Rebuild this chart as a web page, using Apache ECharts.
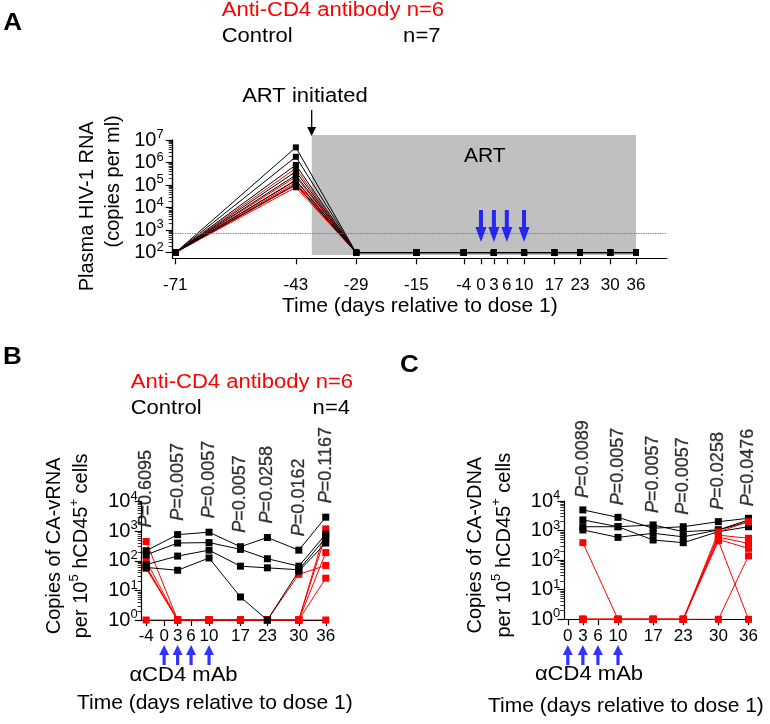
<!DOCTYPE html>
<html><head><meta charset="utf-8">
<script src="https://cdn.jsdelivr.net/npm/echarts@6/dist/echarts.min.js"></script>
<style>html,body{margin:0;padding:0;background:#fff}#c{width:770px;height:724px}</style>
</head><body><div id="c"></div>
<script>
// ---------------- DATA ----------------
// Panel A: plasma HIV-1 RNA (copies per ml)
const aDays = [-71, -43, -29, -15, -4, 3, 10, 17, 23, 30, 36];
const aAnti = [
  [100, 5.5e5, 100, 100, 100, 100, 100, 100, 100, 100, 100],
  [100, 2.3e5, 100, 100, 100, 100, 100, 100, 100, 100, 100],
  [100, 1.7e5, 100, 100, 100, 100, 100, 100, 100, 100, 100],
  [100, 1.3e5, 100, 100, 100, 100, 100, 100, 100, 100, 100],
  [100, 1.0e5, 100, 100, 100, 100, 100, 100, 100, 100, 100],
  [100, 8.0e4, 100, 100, 100, 100, 100, 100, 100, 100, 100]
];
const aControl = [
  [100, 4.7e6, 100, 100, 100, 100, 100, 100, 100, 100, 100],
  [100, 1.8e6, 100, 100, 100, 100, 100, 100, 100, 100, 100],
  [100, 7.8e5, 100, 100, 100, 100, 100, 100, 100, 100, 100],
  [100, 4.0e5, 100, 100, 100, 100, 100, 100, 100, 100, 100],
  [100, 2.8e5, 100, 100, 100, 100, 100, 100, 100, 100, 100],
  [100, 1.6e5, 100, 100, 100, 100, 100, 100, 100, 100, 100],
  [100, 1.1e5, 100, 100, 100, 100, 100, 100, 100, 100, 100]
];
const aTicks = [-71, -43, -29, -15, -4, 0, 3, 6, 10, 17, 23, 30, 36];
const aDetectionLimit = 700;
const artPeriod = [-39.3, 36];
const doseDays = [0, 3, 6, 10];

// Panel B: CA-vRNA copies per 1e5 hCD45+ cells
const bDays = [-4, 3, 10, 17, 23, 30, 36];
const bAnti = [
  [450, 1, 1, 1, 1, 1, 1200],
  [100, 1, 1, 1, 1, 1, 760],
  [65, 1, 1, 1, 1, 1, 190],
  [60, 1, 1, 1, 1, 35, 70],
  [55, 1, 1, 1, 1, 1, 26],
  [1, 1, 1, 1, 1, 1, 1]
];
const bControl = [
  [220, 770, 930, 300, 615, 230, 3000],
  [160, 400, 415, 245, 118, 66, 800],
  [75, 145, 230, 66, 58, 50, 600],
  [60, 48, 125, 6, 1, 45, 400]
];
const bP = ['0.6095', '0.0057', '0.0057', '0.0057', '0.0258', '0.0162', '0.1167'];
const bTicks = [-4, 0, 3, 6, 10, 17, 23, 30, 36];

// Panel C: CA-vDNA copies per 1e5 hCD45+ cells
const cDays = [3, 10, 17, 23, 30, 36];
const cAnti = [
  [390, 1, 1, 1, 900, 2000],
  [1, 1, 1, 1, 700, 550],
  [1, 1, 1, 1, 600, 370],
  [1, 1, 1, 1, 500, 250],
  [1, 1, 1, 1, 450, 1],
  [1, 1, 1, 1, 1, 140]
];
const cControl = [
  [5000, 2800, 1200, 1350, 2000, 2600],
  [2300, 1350, 1550, 920, 1050, 2300],
  [1350, 1350, 480, 390, 920, 1350],
  [1050, 590, 810, 615, 1050, 2000]
];
const cP = ['0.0089', '0.0057', '0.0057', '0.0057', '0.0258', '0.0476'];
const cTicks = [0, 3, 6, 10, 17, 23, 30, 36];

// ---------------- STYLE ----------------
const FONT = '"Liberation Sans", Arial, Helvetica, sans-serif';
const RED = '#ff0000', BLACK = '#000000', BLUE = '#0000ff';
const SX = 1.13;
const ARROW_UP = 'path://M5,0 L10,10 L6.6,10 L6.6,20 L3.4,20 L3.4,10 L0,10 Z';
const ARROW_DOWN = 'path://M3.5,0 L7.5,0 L7.5,17 L11,17 L5.5,32 L0,17 L3.5,17 Z';
const A_X = [-71.6, 43.2], B_X = [-5, 36.5], C_X = [-0.7, 36.6];

const logRich = {
  b: {fontSize: 20, fontFamily: FONT, color: BLACK, lineHeight: 24},
  s: {fontSize: 13, fontFamily: FONT, color: BLACK, lineHeight: 17, verticalAlign: 'top'}
};
function logLabel(v) { return '{b|10}{s|' + Math.round(Math.log10(v)) + '}'; }
function zip(days, vals) { return days.map((d, i) => [d, vals[i]]); }
function colMax(groups, n) {
  const out = [];
  for (let i = 0; i < n; i++) {
    let m = 0;
    groups.forEach(g => g.forEach(s => { if (s[i] > m) m = s[i]; }));
    out.push(m);
  }
  return out;
}
function axLine() { return {show: true, onZero: false, lineStyle: {color: BLACK, width: 1.2}}; }
function logYAxis(gi, min, max, name, nameGap, rich, labelMargin) {
  return {
    gridIndex: gi, type: 'log', logBase: 10, min: min, max: max,
    axisLine: axLine(),
    axisTick: {show: true, length: 7, lineStyle: {color: BLACK, width: 1.2}},
    minorTick: {show: true, length: 4, splitNumber: 9, lineStyle: {color: BLACK, width: 0.8}},
    splitLine: {show: false}, minorSplitLine: {show: false},
    axisLabel: {formatter: logLabel, rich: logRich, margin: labelMargin, fontSize: 20, color: BLACK},
    name: name, nameLocation: 'middle', nameRotate: 90, nameGap: nameGap,
    nameTextStyle: {rich: rich}
  };
}
function valXAxis(gi, ext, ticks, margin, nameGap, pad) {
  return {
    gridIndex: gi, type: 'value', min: ext[0], max: ext[1], position: 'bottom',
    axisLine: axLine(),
    axisTick: {show: true, length: 6, customValues: ticks, lineStyle: {color: BLACK, width: 1.2}},
    axisLabel: {customValues: ticks, fontSize: 17, fontFamily: FONT, color: BLACK, margin: margin, hideOverlap: false},
    splitLine: {show: false},
    name: 'Time (days relative to dose 1)', nameLocation: 'middle', nameGap: nameGap,
    nameTextStyle: {fontSize: 21, fontFamily: FONT, color: BLACK, padding: pad}
  };
}
function hiddenX(gi, ext) { return {gridIndex: gi, type: 'value', min: ext[0], max: ext[1], show: false}; }
function hiddenY(gi) { return {gridIndex: gi, type: 'value', min: 0, max: 1, show: false}; }
function lineSeries(xi, days, vals, lineColor, markColor, z, size) {
  return {
    type: 'line', xAxisIndex: xi, yAxisIndex: xi, data: zip(days, vals),
    symbol: 'rect', symbolSize: size, z: z, silent: true,
    lineStyle: {color: lineColor, width: 1}, itemStyle: {color: markColor}
  };
}
function pSeries(xi, days, maxes, pvals, dist) {
  const tok = {fontSize: 18, fontFamily: FONT, color: BLACK, textBorderColor: BLACK, textBorderWidth: 0.3};
  return {
    type: 'scatter', xAxisIndex: xi, yAxisIndex: xi, z: 10, silent: true,
    data: zip(days, maxes), symbol: 'circle', symbolSize: 0.01,
    itemStyle: {color: BLACK},
    label: {
      show: true, position: 'top', distance: dist, rotate: 90, align: 'left', verticalAlign: 'middle',
      color: BLACK,
      formatter: p => '{i|P}{n|=' + pvals[p.dataIndex] + '}',
      rich: {i: Object.assign({fontStyle: 'italic'}, tok), n: Object.assign({}, tok)}
    }
  };
}
function arrowSeries(xi, sym, size) {
  return {
    type: 'scatter', xAxisIndex: xi, yAxisIndex: xi, silent: true, z: 10,
    data: doseDays.map(d => [d, 0.5]), symbol: sym, symbolSize: size,
    itemStyle: {color: BLUE}
  };
}
function txt(x, y, text, color, align, size, weight) {
  return {
    type: 'text', x: x, y: y, scaleX: SX, silent: true,
    style: {text: text, fill: color, fontSize: size || 19.5, fontFamily: FONT,
            fontWeight: weight || 'normal', textAlign: align || 'left', textVerticalAlign: 'middle'}
  };
}

// ---------------- GRIDS ----------------
// 0: A data, 1: A dose arrows, 2: A time-axis frame, 3: A ART band,
// 4: B data, 5: B arrows, 6: C data, 7: C arrows
const grids = [
  {left: 172.7, top: 140, width: 494.3, height: 112.7},
  {left: 172.7, top: 210, width: 494.3, height: 32},
  {left: 172.7, top: 140, width: 494.3, height: 118.3},
  {left: 172.7, top: 135, width: 494.3, height: 120},
  {left: 141.7, top: 501.7, width: 186.3, height: 118.3},
  {left: 141.7, top: 645, width: 186.3, height: 20},
  {left: 564.3, top: 501, width: 187.2, height: 118.3},
  {left: 564.3, top: 645, width: 187.2, height: 20}
];

// ---------------- SERIES ----------------
const series = [];
series.push({
  type: 'line', xAxisIndex: 3, yAxisIndex: 3, data: [], silent: true, z: 0,
  markArea: {
    silent: true, itemStyle: {color: '#c0c0c0'},
    label: {show: true, position: 'insideTop', distance: 11, offset: [11, 0], color: BLACK,
            fontSize: 21, fontFamily: FONT, formatter: 'ART'},
    data: [[{xAxis: artPeriod[0], yAxis: 0}, {xAxis: artPeriod[1], yAxis: 1}]]
  }
});
aAnti.forEach((v, i) => {
  const s = lineSeries(0, aDays, v, RED, BLACK, 2, 6);
  if (i === 0) {
    s.markLine = {
      silent: true, symbol: 'none', label: {show: false},
      lineStyle: {type: 'dotted', color: '#707070', width: 1.2},
      data: [{yAxis: aDetectionLimit}]
    };
  }
  series.push(s);
});
aControl.forEach(v => series.push(lineSeries(0, aDays, v, BLACK, BLACK, 3, 6)));
series.push(arrowSeries(1, ARROW_DOWN, [11, 32]));
bAnti.forEach(v => series.push(lineSeries(4, bDays, v, RED, RED, 2, 7)));
bControl.forEach(v => series.push(lineSeries(4, bDays, v, BLACK, BLACK, 3, 7)));
series.push(pSeries(4, bDays, colMax([bAnti, bControl], bDays.length), bP, 14));
series.push(arrowSeries(5, ARROW_UP, [10, 20]));
cControl.forEach(v => series.push(lineSeries(6, cDays, v, BLACK, BLACK, 2, 7)));
cAnti.forEach(v => series.push(lineSeries(6, cDays, v, RED, RED, 3, 7)));
series.push(pSeries(6, cDays, colMax([cAnti, cControl], cDays.length), cP, 12));
series.push(arrowSeries(7, ARROW_UP, [10, 20]));

const richA = {
  l1: {fontSize: 20, fontFamily: FONT, color: BLACK, lineHeight: 26, padding: [0, 20, 0, 0]},
  l2: {fontSize: 20, fontFamily: FONT, color: BLACK, lineHeight: 26, padding: [0, 0, 0, 30]}
};
function richBC(lh) {
  return {
    l1: {fontSize: 20, fontFamily: FONT, color: BLACK, lineHeight: lh, padding: [0, 0, 0, 30]},
    p: {fontSize: 20, fontFamily: FONT, color: BLACK, lineHeight: lh, padding: [0, 0, 0, 30]},
    t: {fontSize: 20, fontFamily: FONT, color: BLACK, lineHeight: lh},
    s: {fontSize: 13, fontFamily: FONT, color: BLACK, lineHeight: 18, verticalAlign: 'top'}
  };
}
const nameB = '{l1|Copies of CA-vRNA}\n{p|per 10}{s|5}{t| hCD45}{s|+}{t| cells}';
const nameC = '{l1|Copies of CA-vDNA}\n{p|per 10}{s|5}{t| hCD45}{s|+}{t| cells}';

const option = {
  animation: false,
  backgroundColor: '#ffffff',
  textStyle: {fontFamily: FONT},
  grid: grids,
  xAxis: [
    hiddenX(0, A_X),
    hiddenX(1, A_X),
    valXAxis(2, A_X, aTicks, 19, 37, [0, 0, 0, 0]),
    hiddenX(3, A_X),
    valXAxis(4, B_X, bTicks, 8, 73, [0, 40, 0, 0]),
    hiddenX(5, B_X),
    valXAxis(6, C_X, cTicks, 9, 76, [0, 64, 0, 0]),
    hiddenX(7, C_X)
  ],
  yAxis: [
    logYAxis(0, 100, 1e7, '{l1|Plasma HIV-1 RNA}\n{l2|(copies per ml)}', 42, richA, 9),
    hiddenY(1),
    {gridIndex: 2, type: 'value', min: 0, max: 1, axisLine: axLine(), axisTick: {show: false},
     axisLabel: {show: false}, splitLine: {show: false}},
    hiddenY(3),
    logYAxis(4, 1, 1e4, nameB, 47, richBC(27), 4),
    hiddenY(5),
    logYAxis(6, 1, 1e4, nameC, 45, richBC(29), 4),
    hiddenY(7)
  ],
  series: series,
  graphic: {elements: [
    txt(3.3, 23.3, 'A', BLACK, 'left', 23, 'bold'),
    txt(3, 357.5, 'B', BLACK, 'left', 23, 'bold'),
    txt(400, 366, 'C', BLACK, 'left', 23, 'bold'),
    txt(221.7, 11, 'Anti-CD4 antibody n=6', RED),
    txt(221.7, 37, 'Control', BLACK),
    txt(440.5, 37, 'n=7', BLACK, 'right'),
    txt(130.7, 382.5, 'Anti-CD4 antibody n=6', RED),
    txt(130.7, 409, 'Control', BLACK),
    txt(350, 409, 'n=4', BLACK, 'right'),
    txt(305, 97, 'ART initiated', BLACK, 'center'),
    {type: 'line', silent: true, shape: {x1: 311.7, y1: 110, x2: 311.7, y2: 129}, style: {stroke: BLACK, lineWidth: 1.3}},
    {type: 'polygon', silent: true, shape: {points: [[307.2, 127], [316.2, 127], [311.7, 136]]}, style: {fill: BLACK}},
    txt(500, 200, '\u03b1CD4 mAb', BLACK, 'center'),
    txt(183.5, 676, '\u03b1CD4 mAb', BLACK, 'center'),
    txt(589, 675, '\u03b1CD4 mAb', BLACK, 'center')
  ]}
};
const chart = echarts.init(document.getElementById('c'), null, {renderer: 'canvas', width: 770, height: 724});
chart.setOption(option);
</script>
</body></html>
